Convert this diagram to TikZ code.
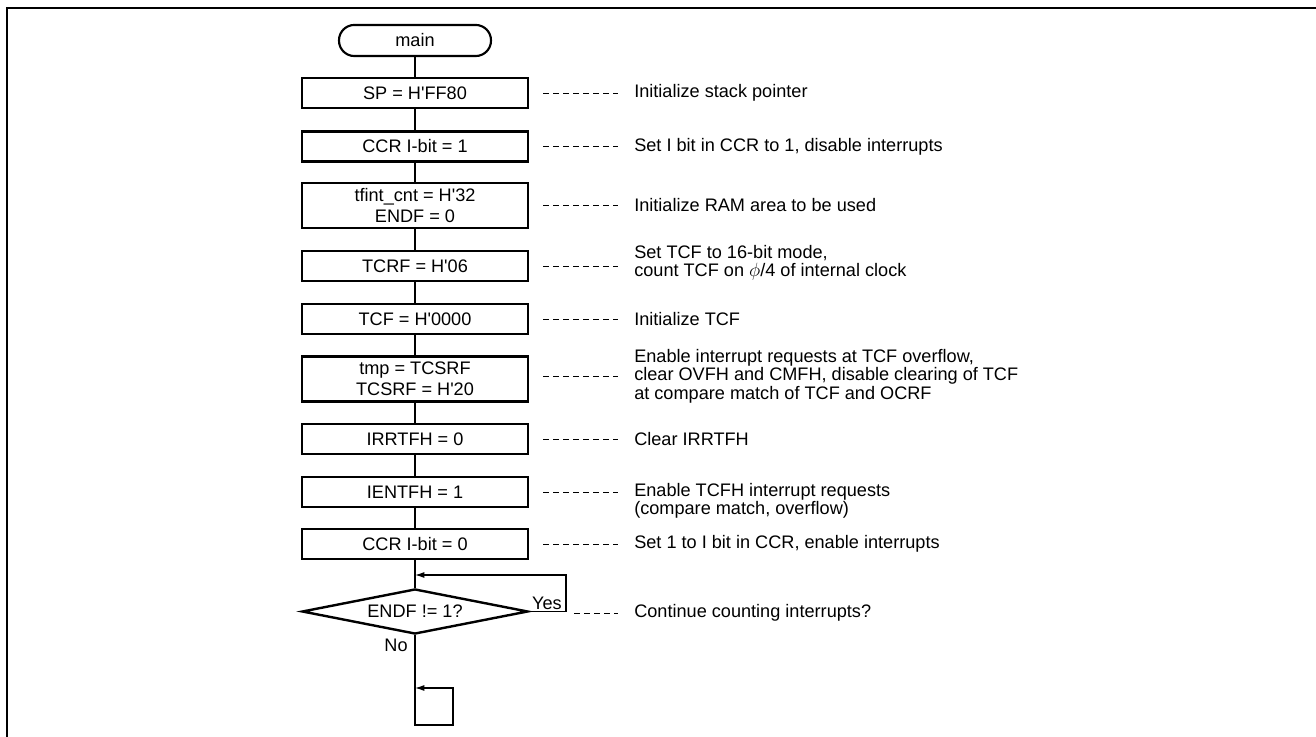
\documentclass[tikz,border=0pt]{standalone}
\usepackage{fontspec}
\setmainfont{Liberation Sans}
\usetikzlibrary{arrows.meta,shapes.geometric}

\newcommand{\hq}{\textquotesingle}

\tikzset{
  proc/.style={draw,line width=1.8pt,minimum width=169.5pt,inner sep=2pt,
    align=center,font=\fontsize{13.6}{16}\selectfont},
  term/.style={draw,line width=1.6pt,rounded corners=11.5pt,minimum width=114pt,
    minimum height=23.3pt,font=\fontsize{13.6}{16}\selectfont},
  decide/.style={draw,diamond,aspect=6,line width=1.8pt,minimum width=169.5pt,
    minimum height=33.8pt,inner sep=0pt,font=\fontsize{13.6}{16}\selectfont},
  note/.style={anchor=west,inner sep=0pt,align=left,
    font=\fontsize{13.6}{13.8}\selectfont},
  link/.style={line width=0.6pt,dash pattern=on 4.3pt off 3.2pt},
  flow/.style={line width=0.9pt},
  loopback/.style={line width=0.9pt,-{Latex[length=7pt,width=4.5pt]}}
}

\begin{document}
\begin{tikzpicture}[x=0.75pt,y=-0.75pt]
  \useasboundingbox (0,0) rectangle (1316,737);
  % frame
  \draw[line width=1.7pt] (7,737) -- (7,7.8) -- (1316,7.8);

  % flow chart
  \node[term] (main) at (415,40.5) {main};
  \node[proc,minimum height=22.5pt] (sp) at (415,93) {SP = H\hq FF80};
  \node[proc,minimum height=22.5pt] (ccra) at (415,146.5) {CCR I-bit = 1};
  \node[proc,minimum height=34pt] (ram) at (415,205.5) {tfint\_cnt = H\hq 32\\ENDF = 0};
  \node[proc,minimum height=22.5pt] (tcrf) at (415,266) {TCRF = H\hq 06};
  \node[proc,minimum height=22.5pt] (tcf) at (415,319) {TCF = H\hq 0000};
  \node[proc,minimum height=34pt] (tcsrf) at (415,379) {tmp = TCSRF\\TCSRF = H\hq 20};
  \node[proc,minimum height=22.5pt] (irr) at (415,439) {IRRTFH = 0};
  \node[proc,minimum height=22.5pt] (ien) at (415,492) {IENTFH = 1};
  \node[proc,minimum height=22.5pt] (ccrb) at (415,544) {CCR I-bit = 0};
  \node[decide] (endf) at (415,611.5) {ENDF != 1?};

  \coordinate (ret) at (415,575);
  \coordinate (yr) at (566,611.5);
  \coordinate (yt) at (566,575);
  \coordinate (hold) at (415,688);
  \coordinate (hb) at (415,725);
  \coordinate (hr) at (453,725);
  \coordinate (ht) at (453,688);

  \draw[flow] (main) -- (sp);
  \draw[flow] (sp) -- (ccra);
  \draw[flow] (ccra) -- (ram);
  \draw[flow] (ram) -- (tcrf);
  \draw[flow] (tcrf) -- (tcf);
  \draw[flow] (tcf) -- (tcsrf);
  \draw[flow] (tcsrf) -- (irr);
  \draw[flow] (irr) -- (ien);
  \draw[flow] (ien) -- (ccrb);
  \draw[flow] (ccrb) -- (endf);
  \draw[loopback] (endf.east) -- (yr) -- (yt) -- (ret);
  \draw[loopback] (endf.south) -- (hb) -- (hr) -- (ht) -- (hold);
  \node[font=\fontsize{13.6}{16}\selectfont,anchor=south,inner sep=1pt] (yes) at (547,611) {Yes};
  \node[font=\fontsize{13.6}{16}\selectfont] (no) at (396,645) {No};

  % comments
  \draw[link] (543,93) -- (618,93);
  \node[note] (c1) at (634,93) {Initialize stack pointer};
  \draw[link] (543,146.5) -- (618,146.5);
  \node[note] (c2) at (634,146.5) {Set I bit in CCR to 1, disable interrupts};
  \draw[link] (543,205.5) -- (618,205.5);
  \node[note] (c3) at (634,205.5) {Initialize RAM area to be used};
  \draw[link] (543,266) -- (618,266);
  \node[note] (c4) at (634,263) {Set TCF to 16-bit mode,\\count TCF on $\phi$/4 of internal clock};
  \draw[link] (543,376) -- (618,376);
  \draw[link] (543,319) -- (618,319);
  \node[note] (c5) at (634,319) {Initialize TCF};
  \node[note] (c6) at (634,376) {Enable interrupt requests at TCF overflow,\\clear OVFH and CMFH, disable clearing of TCF\\at compare match of TCF and OCRF};
  \draw[link] (543,439) -- (618,439);
  \node[note] (c7) at (634,439) {Clear IRRTFH};
  \draw[link] (543,492) -- (618,492);
  \node[note] (c8) at (634,501) {Enable TCFH interrupt requests\\(compare match, overflow)};
  \draw[link] (543,544) -- (618,544);
  \node[note] (c9) at (634,544) {Set 1 to I bit in CCR, enable interrupts};
  \draw[link] (574,613) -- (618,613);
  \node[note] (c10) at (634,613) {Continue counting interrupts?};
\end{tikzpicture}
\end{document}
